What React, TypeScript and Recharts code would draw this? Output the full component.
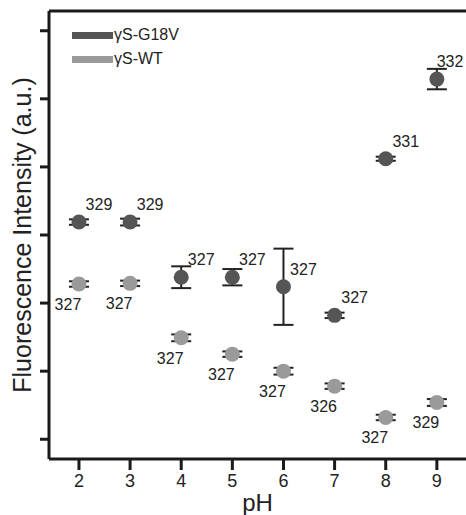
import React from 'react';
import { ScatterChart, Scatter, XAxis, YAxis, ErrorBar, ReferenceLine, Legend } from 'recharts';

// pH on x, fluorescence intensity (arbitrary units) on y
const phValues = [2, 3, 4, 5, 6, 7, 8, 9];

const g18vIntensity = [3.19, 3.19, 2.38, 2.38, 2.24, 1.82, 4.12, 5.29];
const g18vError = [0.04, 0.05, 0.16, 0.12, 0.56, 0.04, 0.03, 0.15];
const g18vPeak = ['329', '329', '327', '327', '327', '327', '331', '332'];

const wtIntensity = [2.28, 2.29, 1.49, 1.25, 1.0, 0.78, 0.32, 0.54];
const wtError = [0.04, 0.04, 0.05, 0.04, 0.05, 0.04, 0.04, 0.05];
const wtPeak = ['327', '327', '327', '327', '327', '326', '327', '329'];

const yTicks = [0, 1, 2, 3, 4, 5, 6];

const FONT = '"Liberation Sans", Arial, Helvetica, sans-serif';
const DARK = '#555555';
const LIGHT = '#9a9a9a';
const INK = '#1a1a1a';

const g18vData = phValues.map((ph, i) => ({
  ph,
  intensity: g18vIntensity[i],
  err: g18vError[i],
  peak: g18vPeak[i],
}));

const wtData = phValues.map((ph, i) => ({
  ph,
  intensity: wtIntensity[i],
  err: wtError[i],
  peak: wtPeak[i],
}));

const makeShape = (color: string, dx: number, dy: number) => (props: any) => {
  const { cx, cy, payload } = props;
  return (
    <g>
      <circle cx={cx} cy={cy} r={7.5} fill={color} />
      <text
        x={Math.min(cx + dx, 450)}
        y={cy + dy}
        textAnchor="middle"
        fontSize={16}
        fontFamily={FONT}
        fill="#222"
      >
        {payload.peak}
      </text>
    </g>
  );
};

const LegendBox = (props: any) => {
  const { payload } = props;
  return (
    <div style={{ fontFamily: FONT, fontSize: 16, color: '#222' }}>
      {(payload || []).map((entry: any) => (
        <div key={entry.value} style={{ display: 'flex', alignItems: 'center', height: 24 }}>
          <span style={{ display: 'inline-block', width: 41, height: 7, background: entry.color }} />
          <span style={{ marginLeft: 1 }}>{entry.value}</span>
        </div>
      ))}
    </div>
  );
};

const YTitle = (props: any) => {
  const vb = props.viewBox;
  const x = vb.x + 31;
  const y = vb.y + vb.height / 2;
  return (
    <text
      x={x}
      y={y}
      transform={`rotate(-90, ${x}, ${y})`}
      textAnchor="middle"
      fontSize={25}
      fontFamily={FONT}
      fill="#222"
    >
      Fluorescence Intensity (a.u.)
    </text>
  );
};

const XTitle = (props: any) => {
  const vb = props.viewBox;
  return (
    <text
      x={vb.x + vb.width / 2}
      y={vb.y + 52}
      textAnchor="middle"
      fontSize={24}
      fontFamily={FONT}
      fill="#222"
    >
      pH
    </text>
  );
};

const App = () => {
  return (
    <div style={{ position: 'absolute', left: 0, top: 0, width: 466, height: 515, background: '#fff' }}>
      <ScatterChart width={466} height={515} margin={{ top: 11, right: 0, bottom: 0, left: 0 }}>
        <XAxis
          type="number"
          dataKey="ph"
          domain={[1.414, 9.57]}
          ticks={phValues}
          allowDataOverflow
          height={56}
          tickSize={11}
          tickMargin={4}
          axisLine={{ stroke: INK, strokeWidth: 3 }}
          tickLine={{ stroke: INK, strokeWidth: 3 }}
          tick={{ fill: '#222', fontSize: 18, fontFamily: FONT }}
          label={{ content: XTitle }}
        />
        <YAxis
          type="number"
          dataKey="intensity"
          domain={[-0.29, 6.29]}
          ticks={yTicks}
          allowDataOverflow
          width={49}
          tickSize={9}
          axisLine={{ stroke: INK, strokeWidth: 3 }}
          tickLine={{ stroke: INK, strokeWidth: 3 }}
          tick={() => <g />}
          label={{ content: YTitle }}
        />
        <ReferenceLine y={6.29} stroke={INK} strokeWidth={3} ifOverflow="visible" />
        <Legend
          layout="horizontal"
          align="center"
          verticalAlign="middle"
          content={LegendBox}
          wrapperStyle={{ top: 23, left: 72, width: 'auto', height: 'auto' }}
        />
        <Scatter
          name="γS-G18V"
          data={g18vData}
          fill={DARK}
          isAnimationActive={false}
          shape={makeShape(DARK, 20, -12)}
        >
          <ErrorBar dataKey="err" direction="y" width={10} stroke="#222" strokeWidth={2} />
        </Scatter>
        <Scatter
          name="γS-WT"
          data={wtData}
          fill={LIGHT}
          isAnimationActive={false}
          shape={makeShape(LIGHT, -11, 26)}
        >
          <ErrorBar dataKey="err" direction="y" width={10} stroke="#222" strokeWidth={2} />
        </Scatter>
      </ScatterChart>
    </div>
  );
};

export default App;
